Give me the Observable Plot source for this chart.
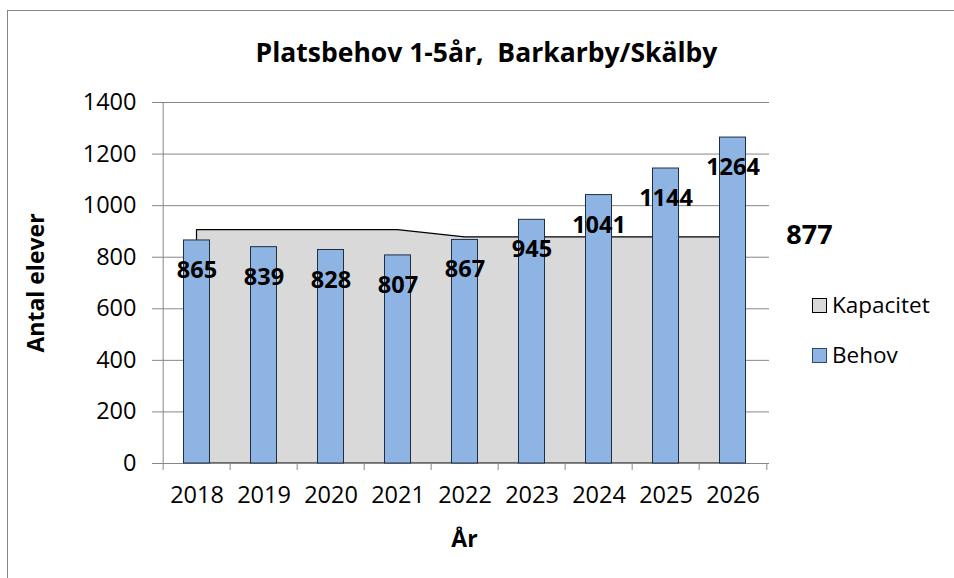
<!DOCTYPE html>
<html>
<head>
<meta charset="utf-8">
<script src="https://cdn.jsdelivr.net/npm/d3@7"></script>
<script src="https://cdn.jsdelivr.net/npm/@observablehq/plot@0.6"></script>
<style>
  html, body { margin: 0; padding: 0; background: #fff; }
  #wrap { position: relative; width: 954px; height: 578px; overflow: hidden; font-family: "Open Sans", sans-serif; }
  #wrap svg { position: absolute; left: 0; top: 0; }
  .border { position: absolute; left: 7px; top: 10px; width: 1000px; height: 1000px; border-left: 1px solid #878787; border-top: 1px solid #878787; }
  .title { position: absolute; left: 0; width: 973px; top: 34px; text-align: center; font-weight: 700; font-size: 26.5px; line-height: 36px; color: #000; white-space: pre; }
  .xlabel { position: absolute; left: 0; width: 929px; top: 522px; text-align: center; font-weight: 700; font-size: 23px; line-height: 32px; }
  .ylabel { position: absolute; left: 35px; top: 283px; transform: translate(-50%, -50%) rotate(-90deg); font-weight: 700; font-size: 23px; white-space: nowrap; }
  .legend { position: absolute; left: 812px; font-size: 22.5px; line-height: 30px; }
  .legend .sw { display: inline-block; width: 13px; height: 13px; border: 1px solid #222; margin-right: 5px; vertical-align: 0px; }
</style>
</head>
<body>
<div id="wrap">
  <div class="border"></div>
</div>
<script>
const years = [2018, 2019, 2020, 2021, 2022, 2023, 2024, 2025, 2026];
const behov = [865, 839, 828, 807, 867, 945, 1041, 1144, 1264];
const kapacitet = [905, 905, 905, 905, 877, 877, 877, 877, 877];
const yTicks = [0, 200, 400, 600, 800, 1000, 1200, 1400];
const titleText = "Platsbehov 1-5år,  Barkarby/Skälby";
const xTitle = "År";
const yTitle = "Antal elever";
const seriesNames = ["Kapacitet", "Behov"];

const data = years.map((y, i) => ({year: y, behov: behov[i], kap: kapacitet[i]}));
const W = 954, H = 578, mL = 160, mR = 185, mT = 102, mB = 115;
const bw = (W - mL - mR) / years.length;
const grid = "#878787";

const chart = Plot.plot({
  width: W, height: H,
  marginLeft: mL, marginRight: mR, marginTop: mT, marginBottom: mB,
  style: {fontFamily: "Open Sans, sans-serif", fontSize: "23px", color: "#000", background: "transparent"},
  x: {type: "band", domain: years, padding: 0, label: null},
  y: {domain: [0, 1400], label: null},
  marks: [
    Plot.gridY(yTicks, {stroke: grid, strokeOpacity: 1}),
    Plot.areaY(data, {x: "year", y: "kap", fill: "#d9d9d9", stroke: "#000", strokeWidth: 1.2}),
    Plot.ruleX([years[0]], {stroke: grid, dx: -bw / 2}),
    Plot.ruleY([0], {stroke: grid}),
    Plot.axisY(yTicks, {tickSize: 8, tickPadding: 16, stroke: grid, fontSize: 23.5, label: null, tickFormat: d => String(d)}),
    Plot.axisX(years, {tickSize: 0, tickPadding: 23, fontSize: 23.5, label: null, tickFormat: d => String(d)}),
    Plot.axisX(years, {tickSize: 7, tickPadding: 0, stroke: grid, dx: -bw / 2, label: null, tickFormat: () => ""}),
    Plot.axisX([years[years.length - 1]], {tickSize: 7, tickPadding: 0, stroke: grid, dx: bw / 2, label: null, tickFormat: () => ""}),
    Plot.barY(data, {x: "year", y: "behov", fill: "#8eb4e3", stroke: "#1f2f42", strokeWidth: 1, insetLeft: 20.5, insetRight: 20.5}),
    Plot.text(data, {x: "year", y: "behov", text: d => String(d.behov), dy: 30, fontWeight: 700, fontSize: 23.5, fill: "#000"}),
    Plot.text(data.slice(-1), {x: "year", y: "kap", text: d => String(d.kap), dx: 76.5, dy: -2, fontWeight: 700, fontSize: 27, fill: "#000"})
  ]
});

const wrap = document.getElementById("wrap");
wrap.appendChild(chart);

function addDiv(cls, text) {
  const d = document.createElement("div");
  d.className = cls;
  d.textContent = text;
  wrap.appendChild(d);
  return d;
}
addDiv("title", titleText);
addDiv("xlabel", xTitle);
addDiv("ylabel", yTitle);

const colors = ["#d9d9d9", "#8eb4e3"];
const tops = [290, 340];
seriesNames.forEach((name, i) => {
  const d = document.createElement("div");
  d.className = "legend";
  d.style.top = tops[i] + "px";
  const sw = document.createElement("span");
  sw.className = "sw";
  sw.style.background = colors[i];
  sw.style.borderColor = i === 0 ? "#000" : "#2a4a70";
  d.appendChild(sw);
  d.appendChild(document.createTextNode(name));
  wrap.appendChild(d);
});
</script>
</body>
</html>
